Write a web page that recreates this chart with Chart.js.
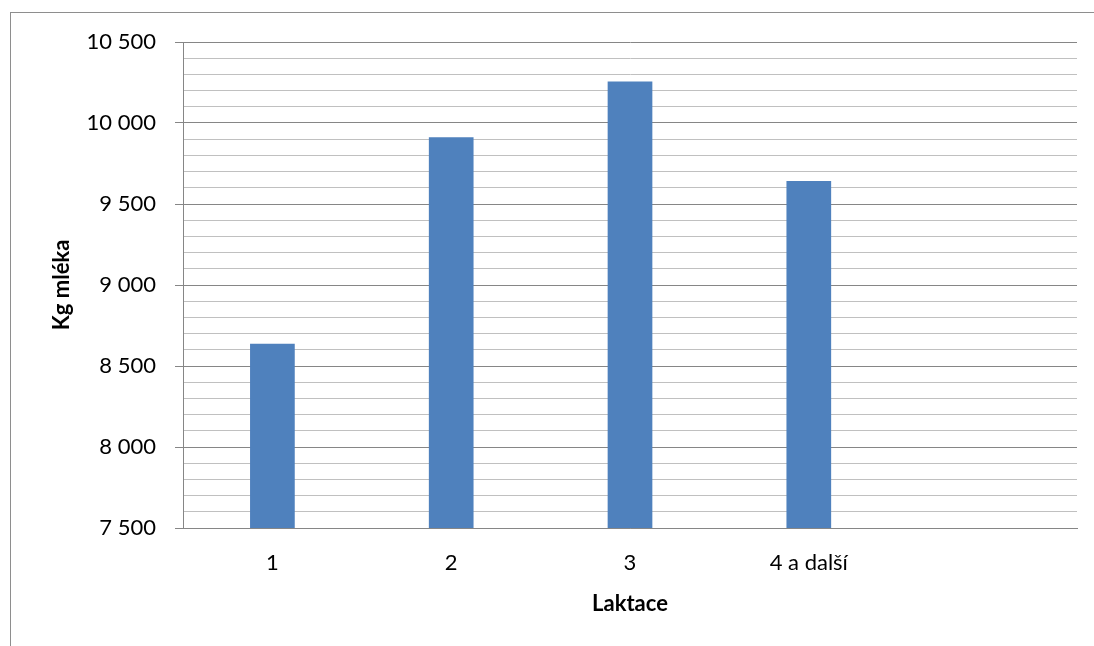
<!DOCTYPE html>
<html lang="cs">
<head>
<meta charset="utf-8">
<title>Kg mléka podle laktace</title>
<script src="https://cdn.jsdelivr.net/npm/chart.js@4/dist/chart.umd.min.js"></script>
<style>
  html, body { margin: 0; padding: 0; background: #ffffff; }
  #wrap { width: 1094px; height: 646px; }
</style>
</head>
<body>
<div id="wrap"><canvas id="chart" width="1094" height="646"></canvas></div>
<script>
// Průměrná produkce mléka podle pořadí laktace
const laktace = ['1', '2', '3', '4 a další', ''];
const kgMleka = [8638, 9912, 10256, 9642, null];

// Osa Y
const yMin = 7500;
const yMax = 10500;
const yMajor = 500;
const yMinor = 100;

const FONT = 'Lato, "Open Sans", "Liberation Sans", sans-serif';
const MAJOR_GRID = '#868686';
const MINOR_GRID = '#c0c0c0';

// číslo s mezerou jako oddělovačem tisíců
function formatCs(v) {
  return String(Math.round(v)).replace(/\B(?=(\d{3})+(?!\d))/g, ' ');
}

// rámeček kolem celého grafu
const frame = {
  id: 'frame',
  beforeDraw(chart) {
    const c = chart.ctx;
    c.save();
    c.fillStyle = '#ffffff';
    c.fillRect(0, 0, chart.width, chart.height);
    c.strokeStyle = '#8e8e8e';
    c.lineWidth = 1;
    c.strokeRect(10.5, 12.5, chart.width + 20, chart.height + 20);
    c.restore();
  }
};

new Chart(document.getElementById('chart'), {
  type: 'bar',
  data: {
    labels: laktace,
    datasets: [{
      data: kgMleka,
      backgroundColor: '#4f81bd',
      borderWidth: 0,
      categoryPercentage: 1,
      barPercentage: 0.25
    }]
  },
  options: {
    responsive: false,
    animation: false,
    layout: { padding: { top: 42, right: 17, left: 0, bottom: 0 } },
    plugins: {
      legend: { display: false },
      tooltip: { enabled: false }
    },
    scales: {
      x: {
        grid: { display: false, drawTicks: false },
        border: { display: true, color: MAJOR_GRID, width: 1 },
        ticks: {
          color: '#000000',
          font: { family: FONT, size: 22 },
          padding: 22,
          maxRotation: 0,
          autoSkip: false
        },
        title: {
          display: true,
          text: 'Laktace',
          color: '#000000',
          font: { family: FONT, size: 22, weight: 'bold' },
          padding: 29
        },
        afterFit(scale) { scale.height = 118; }
      },
      y: {
        min: yMin,
        max: yMax,
        grid: {
          color: (ctx) => (ctx.tick && ctx.tick.value % yMajor === 0) ? MAJOR_GRID : MINOR_GRID,
          tickColor: (ctx) => (ctx.tick && ctx.tick.value % yMajor === 0) ? MAJOR_GRID : 'rgba(0,0,0,0)',
          tickLength: 8,
          lineWidth: 1
        },
        border: { display: true, color: MAJOR_GRID, width: 1 },
        ticks: {
          stepSize: yMinor,
          autoSkip: false,
          color: '#000000',
          font: { family: FONT, size: 22 },
          padding: 19,
          callback: (v) => (v % yMajor === 0) ? formatCs(v) : ''
        },
        title: {
          display: true,
          text: 'Kg mléka',
          color: '#000000',
          font: { family: FONT, size: 22, weight: 'bold' },
          padding: 49
        },
        afterFit(scale) { scale.width = 183; }
      }
    }
  },
  plugins: [frame]
});
</script>
</body>
</html>
